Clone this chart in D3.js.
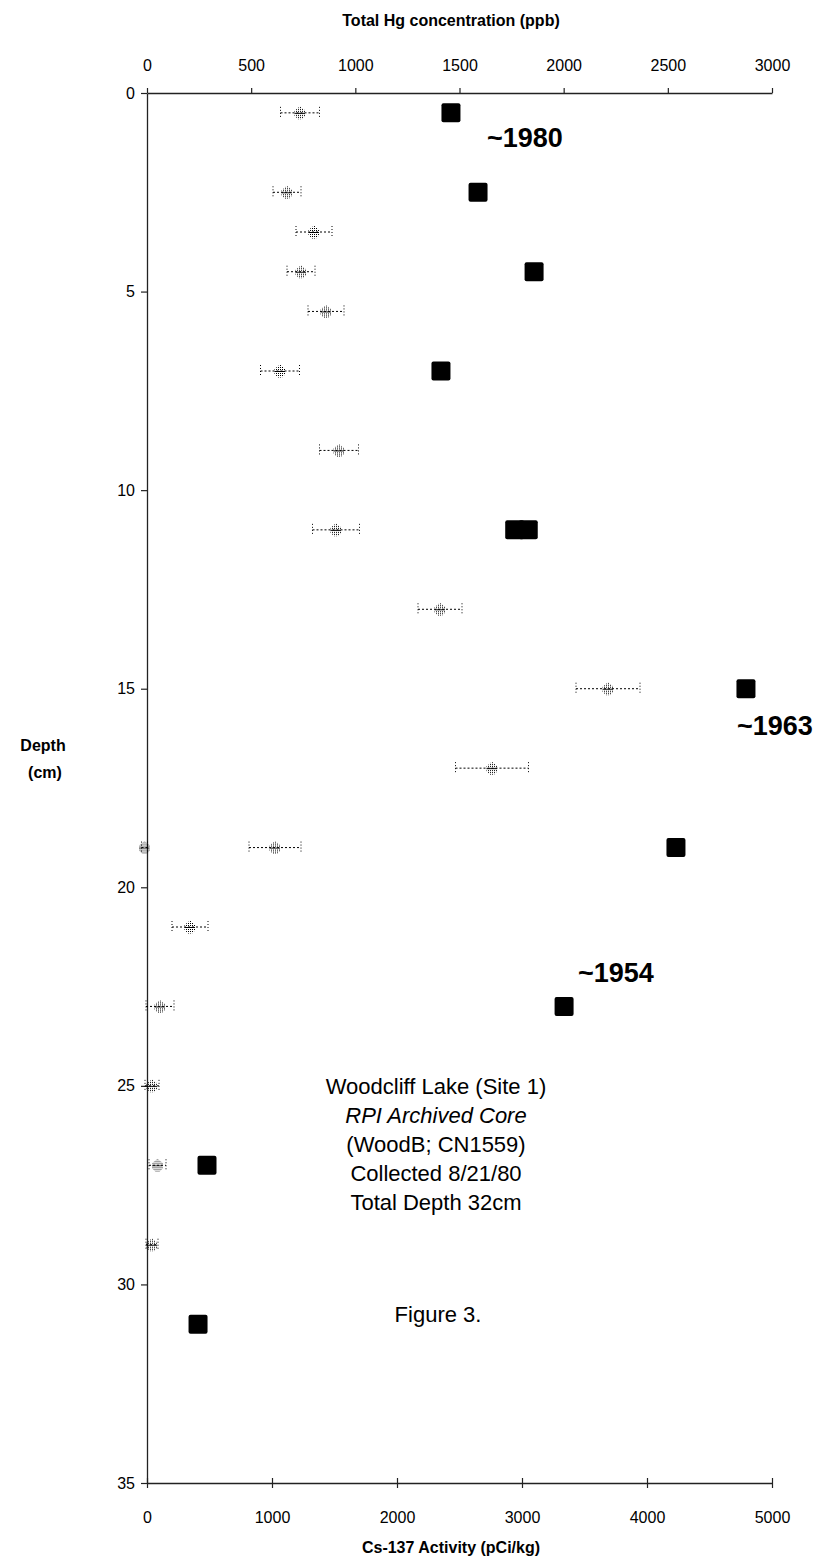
<!DOCTYPE html>
<html>
<head>
<meta charset="utf-8">
<script src="https://cdn.jsdelivr.net/npm/d3@7"></script>
<style>
  html, body { margin: 0; padding: 0; background: #fff; }
  svg { display: block; font-family: "Liberation Sans", Arial, sans-serif; }
</style>
</head>
<body>
<script>
// Cs-137 activity (pCi/kg) with counting error, by depth (cm)
const csDepth = [0.5, 2.5, 3.5, 4.5, 5.5, 7, 9, 11, 13, 15, 17, 19, 19, 21, 23, 25, 27, 29];
const csValue = [1224, 1120, 1336, 1232, 1432, 1064, 1536, 1512, 2344, 3688, 2760, 1024, -20, 344, 104, 40, 84, 40];
const csError = [156, 112, 144, 112, 144, 156, 156, 188, 176, 256, 292, 208, 24, 144, 112, 56, 68, 48];

// Total Hg concentration (ppb) by depth (cm)
const hgDepth = [0.5, 2.5, 4.5, 7, 11, 11, 15, 19, 23, 27, 31];
const hgValue = [1459, 1589, 1858, 1411, 1765, 1830, 2875, 2539, 2002, 288, 245];

// Axis ticks
const hgTicks = [0, 500, 1000, 1500, 2000, 2500, 3000];
const csTicks = [0, 1000, 2000, 3000, 4000, 5000];
const depthTicks = [0, 5, 10, 15, 20, 25, 30, 35];

// Date markers
const dateLabels = ["~1980", "~1963", "~1954"];
const dateDepth = [1.36, 16.17, 22.38];
const dateHg = [1632, 2832, 2069];

// Core description
const noteLines = ["Woodcliff Lake (Site 1)", "RPI Archived Core", "(WoodB; CN1559)", "Collected 8/21/80", "Total Depth 32cm"];
const figureLabel = "Figure 3.";

const W = 822, H = 1564;
const plotLeft = 147, plotRight = 772, plotTop = 93, plotBottom = 1483;

const svg = d3.select("body").append("svg").attr("width", W).attr("height", H);
svg.append("rect").attr("width", W).attr("height", H).attr("fill", "#fff");

// dotted stipple used for the Cs-137 markers
const defs = svg.append("defs");
const pat = defs.append("pattern").attr("id", "stipple")
  .attr("width", 2).attr("height", 2).attr("patternUnits", "userSpaceOnUse");
pat.append("rect").attr("width", 1).attr("height", 1).attr("fill", "#000");

const y = d3.scaleLinear().domain([0, 35]).range([plotTop, plotBottom]);
const xHg = d3.scaleLinear().domain([0, 3000]).range([plotLeft, plotRight]);
const xCs = d3.scaleLinear().domain([0, 5000]).range([plotLeft, plotRight]);
const plain = d3.format("d");

// Top axis: Hg
const gTop = svg.append("g").attr("transform", `translate(0,${plotTop})`)
  .call(d3.axisTop(xHg).tickValues(hgTicks).tickFormat(plain).tickSize(5).tickSizeOuter(0));
// Bottom axis: Cs-137 (ticks cross the axis line)
const gBot = svg.append("g").attr("transform", `translate(0,${plotBottom})`)
  .call(d3.axisBottom(xCs).tickValues(csTicks).tickFormat(plain).tickSize(5).tickSizeOuter(0));
gBot.selectAll(".tick line").attr("y1", -5);
// Left axis: depth
const gLeft = svg.append("g").attr("transform", `translate(${plotLeft},0)`)
  .call(d3.axisLeft(y).tickValues(depthTicks).tickFormat(plain).tickSize(6).tickSizeOuter(0).tickPadding(6));

[gTop, gBot, gLeft].forEach(g => {
  g.selectAll("path.domain").attr("stroke", "#222").attr("stroke-width", 1.3);
  g.selectAll(".tick line").attr("stroke", "#222").attr("stroke-width", 1.2);
  g.selectAll("text").attr("font-family", "'Liberation Sans', Arial, sans-serif")
    .attr("font-size", 16).attr("fill", "#000");
});
gTop.selectAll("text").attr("y", -22).attr("dy", "0");
gBot.selectAll("text").attr("y", 40).attr("dy", "0");

// Axis titles
svg.append("text").attr("x", 451).attr("y", 26).attr("text-anchor", "middle")
  .attr("font-size", 16).attr("font-weight", "bold").text("Total Hg concentration (ppb)");
svg.append("text").attr("x", 451).attr("y", 1553).attr("text-anchor", "middle")
  .attr("font-size", 16).attr("font-weight", "bold").text("Cs-137 Activity (pCi/kg)");
svg.append("text").attr("x", 43).attr("y", 751).attr("text-anchor", "middle")
  .attr("font-size", 16).attr("font-weight", "bold").text("Depth");
svg.append("text").attr("x", 45).attr("y", 778).attr("text-anchor", "middle")
  .attr("font-size", 16).attr("font-weight", "bold").text("(cm)");

// Cs-137 points with error bars
const cs = csDepth.map((d, i) => ({ d, v: csValue[i], e: csError[i] }));
const gCs = svg.append("g");
const eb = gCs.selectAll("g.eb").data(cs).join("g").attr("class", "eb");
eb.append("line")
  .attr("x1", p => xCs(p.v - p.e)).attr("x2", p => xCs(p.v + p.e))
  .attr("y1", p => y(p.d)).attr("y2", p => y(p.d))
  .attr("stroke", "#000").attr("stroke-width", 1).attr("stroke-dasharray", "2,2");
[-1, 1].forEach(s => {
  eb.append("line")
    .attr("x1", p => xCs(p.v + s * p.e)).attr("x2", p => xCs(p.v + s * p.e))
    .attr("y1", p => y(p.d) - 6).attr("y2", p => y(p.d) + 6)
    .attr("stroke", "#000").attr("stroke-width", 1).attr("stroke-dasharray", "1,2");
});
eb.append("path")
  .attr("transform", p => `translate(${xCs(p.v)},${y(p.d)})`)
  .attr("d", "M0,-6.5 L5.5,-2 L5.5,3 L2,6.5 L-2,6.5 L-5.5,3 L-5.5,-2 Z")
  .attr("fill", "url(#stipple)");
eb.append("line")
  .attr("x1", p => xCs(p.v) - 5).attr("x2", p => xCs(p.v) + 5)
  .attr("y1", p => y(p.d) + 0.5).attr("y2", p => y(p.d) + 0.5)
  .attr("stroke", "#000").attr("stroke-width", 1).attr("stroke-dasharray", "1,1");

// Hg squares
const hg = hgDepth.map((d, i) => ({ d, v: hgValue[i] }));
svg.append("g").selectAll("rect").data(hg).join("rect")
  .attr("x", p => xHg(p.v) - 9.5).attr("y", p => y(p.d) - 9.5)
  .attr("width", 19).attr("height", 19).attr("rx", 2)
  .attr("fill", "#000");

// Date annotations
svg.append("g").selectAll("text").data(dateLabels).join("text")
  .attr("x", (t, i) => xHg(dateHg[i])).attr("y", (t, i) => y(dateDepth[i]))
  .attr("font-size", 27).attr("font-weight", "bold").attr("fill", "#000")
  .text(t => t);

// Core description block
svg.append("g").selectAll("text").data(noteLines).join("text")
  .attr("x", 436).attr("y", (t, i) => 1094 + i * 29)
  .attr("text-anchor", "middle").attr("font-size", 22)
  .attr("font-style", (t, i) => i === 1 ? "italic" : "normal")
  .text(t => t);
svg.append("text").attr("x", 438).attr("y", 1322).attr("text-anchor", "middle")
  .attr("font-size", 22).text(figureLabel);
</script>
</body>
</html>
